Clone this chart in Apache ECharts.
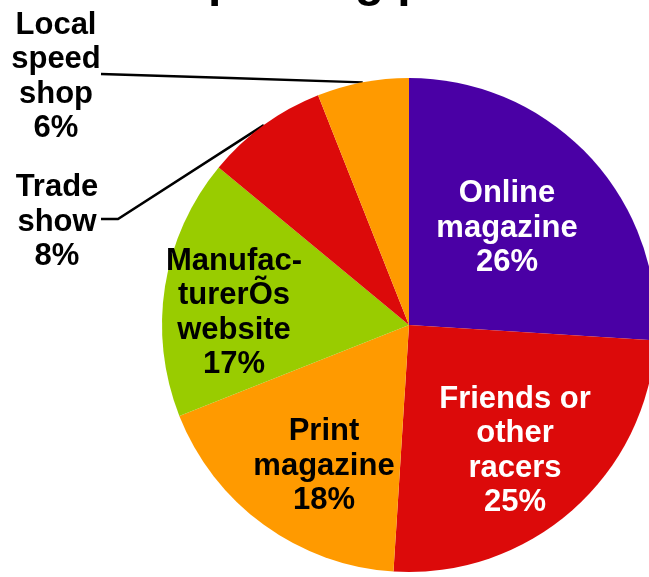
<!DOCTYPE html>
<html>
<head>
<meta charset="utf-8">
<script src="https://cdn.jsdelivr.net/npm/echarts@6/dist/echarts.min.js"></script>
<style>
html,body{margin:0;padding:0;background:#fff;}
#chart{width:649px;height:577px;}
</style>
</head>
<body>
<div id="chart"></div>
<script>
// Data
const categories = [
  'Online\nmagazine',
  'Friends or\nother\nracers',
  'Print\nmagazine',
  'Manufac-\nturerÕs\nwebsite',
  'Trade\nshow',
  'Local\nspeed\nshop'
];
const values = [26, 25, 18, 17, 8, 6];
const titleText = 'improving performance';

// Styling (kept separate from data)
const colors = ['#4A00A5', '#DC0A0A', '#FF9A00', '#99CC00', '#DC0A0A', '#FF9A00'];
const labelColors = ['#fff', '#fff', '#000', '#000', '#000', '#000'];
const labelCenters = [[507, 228], [515, 451], [324, 466], [234, 313], [57, 222], [56, 77]];
const outsideIdx = [4, 5];
const leaderEnds = {4: [[118, 219], [101, 219]], 5: [[230, 78], [101, 74]]};

const font = "'Liberation Sans', Arial, sans-serif";

const chart = echarts.init(document.getElementById('chart'), null, {renderer: 'canvas'});

const data = categories.map((name, i) => ({
  name: name,
  value: values[i],
  itemStyle: {color: colors[i]},
  label: {
    color: labelColors[i],
    position: outsideIdx.includes(i) ? 'outside' : 'inside'
  },
  labelLine: {show: outsideIdx.includes(i)}
}));

chart.setOption({
  animation: false,
  backgroundColor: '#fff',
  graphic: [{
    type: 'text',
    left: 152,
    top: -41,
    style: {
      text: titleText,
      font: 'bold 48px ' + font,
      fill: '#000'
    }
  }],
  series: [{
    type: 'pie',
    center: [409, 325],
    radius: 247,
    startAngle: 90,
    clockwise: true,
    avoidLabelOverlap: false,
    itemStyle: {borderWidth: 0},
    label: {
      show: true,
      formatter: '{b}\n{c}%',
      fontFamily: font,
      fontWeight: 'bold',
      fontSize: 31,
      lineHeight: 34.5,
      align: 'center'
    },
    labelLine: {
      length: 10,
      length2: 10,
      smooth: false,
      lineStyle: {color: '#000', width: 2.5}
    },
    labelLayout: function (params) {
      const i = params.dataIndex;
      const c = labelCenters[i];
      const res = {x: c[0], y: c[1], align: 'center', verticalAlign: 'middle'};
      if (leaderEnds[i] && params.labelLinePoints) {
        const start = params.labelLinePoints[0];
        res.labelLinePoints = [start, leaderEnds[i][0], leaderEnds[i][1]];
      }
      return res;
    },
    emphasis: {disabled: true},
    data: data
  }]
});
</script>
</body>
</html>
